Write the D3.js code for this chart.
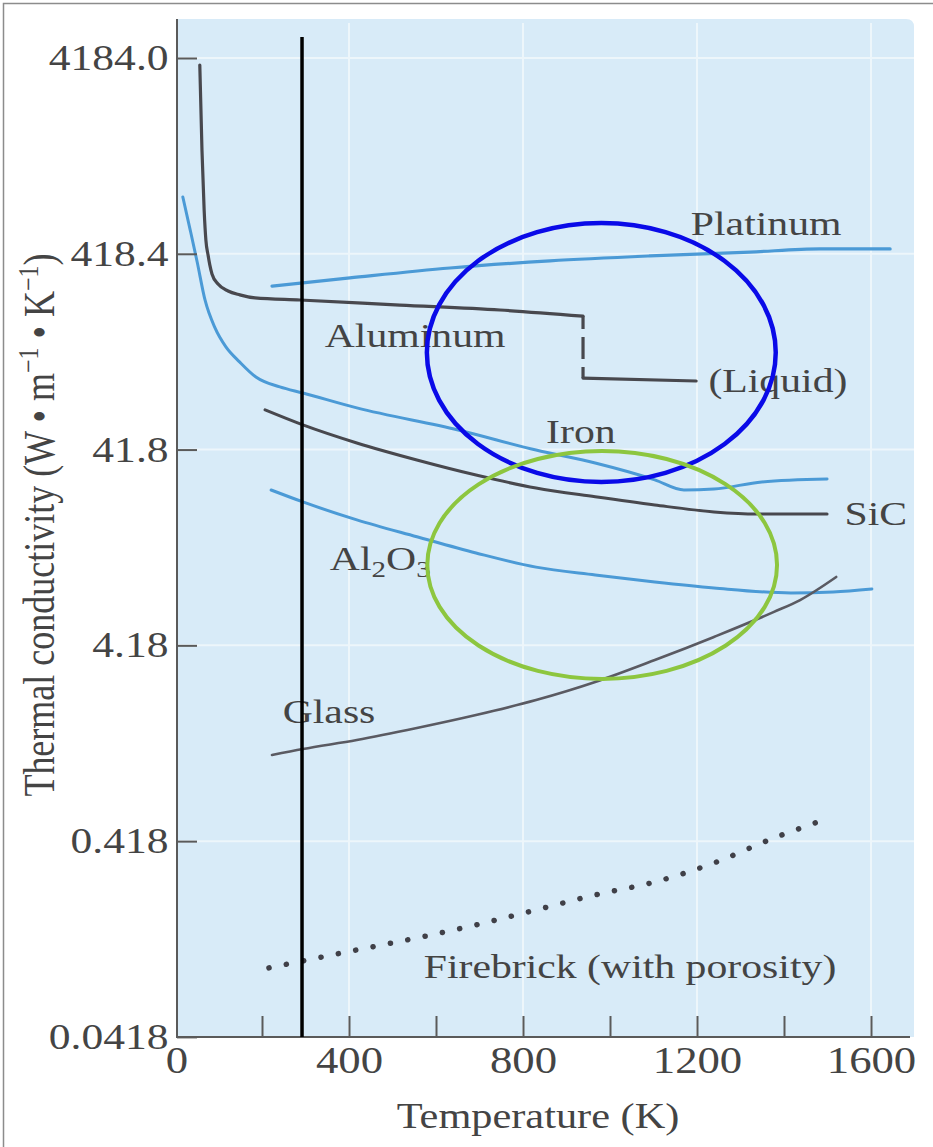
<!DOCTYPE html>
<html>
<head>
<meta charset="utf-8">
<script src="https://cdn.jsdelivr.net/npm/d3@7"></script>
<style>
  html, body { margin: 0; padding: 0; background: #ffffff; }
  svg { display: block; }
  text { font-family: "Liberation Serif", "Times New Roman", serif; fill: #444444; }
</style>
</head>
<body>
<svg id="chart" width="933" height="1147"></svg>
<script>
// Thermal conductivity (W·m⁻¹·K⁻¹) against temperature (K), log scale.
// Each series: [temperature K, conductivity].
const aluminumSolid = [[57,3850],[62,1418],[67,700],[71,492],[76,412],[80,367],[85,330],[99,293],[122,270],[149,258],[184,249],[287,243],[517,229],[747,216],[938,201]];
const aluminumMelt = [[938,201],[938,97]];
const aluminumLiquid = [[938,97],[1198,93.7]];
const platinum = [[223,286],[402,315],[632,354],[862,385],[1092,408],[1322,427],[1483,443],[1644,443]];
const iron = [[18,816],[35,553],[51,380],[69,243],[92,175],[117,140],[149,117],[186,98.2],[241,87.4],[294,81.4],[418,68.3],[651,52.7],[830,41.6],[966,35.7],[1103,29.3],[1170,26.0],[1239,26.3],[1349,28.6],[1499,29.6]];
const siC = [[207,66.7],[294,55.9],[418,45.2],[556,37.0],[692,31.0],[830,26.6],[966,24.0],[1103,21.8],[1239,20.1],[1336,19.6],[1499,19.6]];
const al2o3 = [[221,26.0],[294,22.6],[418,18.3],[556,15.0],[692,12.4],[830,10.5],[966,9.58],[1103,8.82],[1239,8.22],[1416,7.75],[1513,7.84],[1602,8.12]];
const glass = [[223,1.153],[294,1.237],[418,1.375],[556,1.584],[692,1.845],[830,2.20],[966,2.72],[1103,3.52],[1239,4.62],[1377,6.20],[1437,7.13],[1520,9.35]];
const firebrick = [[216,0.0942],[294,0.1023],[418,0.1164],[556,0.134],[692,0.1562],[830,0.1863],[966,0.2222],[1103,0.2589],[1239,0.3237],[1377,0.4343],[1478,0.5243]];

// Axis ticks
const yTickValues = [4184.0, 418.4, 41.84, 4.184, 0.4184, 0.04184];
const yTickLabels = ["4184.0", "418.4", "41.8", "4.18", "0.418", "0.0418"];
const xTickValues = [200, 400, 600, 800, 1000, 1200, 1400, 1600];
const xTickLabels = [0, 400, 800, 1200, 1600];
const xGridValues = [400, 800, 1200, 1600];

// Curve names, anchored in data units (temperature, conductivity)
const curveLabels = [
  { text: "Platinum", t: 1359, k: 522, anchor: "middle" },
  { text: "Aluminum", t: 552, k: 139.8, anchor: "middle" },
  { text: "(Liquid)", t: 1386, k: 82.4, anchor: "middle" },
  { text: "Iron", t: 933, k: 45.2, anchor: "middle" },
  { text: "SiC", t: 1611, k: 17.2, anchor: "middle" },
  { text: "Glass", t: 354, k: 1.68, anchor: "middle" },
  { text: "Firebrick (with porosity)", t: 1046, k: 0.0837, anchor: "middle" }
];
const aluminaLabel = { t: 356, k: 10.15 };

// Room-temperature marker and highlighted regions
const roomTemperature = 292;
const markerTopK = 5356;
const highlights = [
  { t: 980, k: 131, halfT: 401, halfDecades: 0.661, color: "#0a0ae8", width: 4.5 },
  { t: 982, k: 10.77, halfT: 402, halfDecades: 0.582, color: "#8dc63f", width: 4 }
];

const svg = d3.select("#chart");
const SX = 1.21; // horizontal stretch of the serif lettering

const x = d3.scaleLinear().domain([0, 1600]).range([175, 871]);
const y = d3.scaleLog().domain([0.0418, 4184]).range([1037, 58]);

// page frame
svg.append("rect").attr("x", 3.5).attr("y", 3.5).attr("width", 1000).attr("height", 1200)
  .attr("fill", "none").attr("stroke", "#8c8c8c").attr("stroke-width", 1.5);

// plot panel
const panel = { left: 177, top: 19, right: 914, bottom: 1037 };
svg.append("path")
  .attr("d", `M${panel.left},${panel.bottom} V${panel.top} H${panel.right - 8} Q${panel.right},${panel.top} ${panel.right},${panel.top + 8} V${panel.bottom} Z`)
  .attr("fill", "#d8ebf8");

// gridlines
const grid = svg.append("g").attr("stroke", "#ffffff").attr("stroke-width", 2).attr("opacity", 0.55);
grid.selectAll("line.h").data(yTickValues.slice(0, 5)).join("line")
  .attr("x1", panel.left).attr("x2", panel.right)
  .attr("y1", d => y(d)).attr("y2", d => y(d));
grid.selectAll("line.v").data(xGridValues).join("line")
  .attr("x1", d => x(d)).attr("x2", d => x(d))
  .attr("y1", panel.top + 4).attr("y2", panel.bottom);

const line = d3.line().x(d => x(d[0])).y(d => y(d[1])).curve(d3.curveMonotoneX);
const straight = d3.line().x(d => x(d[0])).y(d => y(d[1]));

const GREY = "#48484e", BLUE = "#4b9ad6";
const curves = svg.append("g").attr("fill", "none").attr("stroke-linecap", "round").attr("stroke-linejoin", "round");

curves.append("path").datum(platinum).attr("d", line).attr("stroke", BLUE).attr("stroke-width", 3.2);
curves.append("path").datum(iron).attr("d", line).attr("stroke", BLUE).attr("stroke-width", 3);
curves.append("path").datum(al2o3).attr("d", line).attr("stroke", BLUE).attr("stroke-width", 3);
curves.append("path").datum(siC).attr("d", line).attr("stroke", GREY).attr("stroke-width", 3);
curves.append("path").datum(glass).attr("d", line).attr("stroke", "#5a5a62").attr("stroke-width", 2.6);
curves.append("path").datum(aluminumSolid).attr("d", line).attr("stroke", GREY).attr("stroke-width", 3.2);
curves.append("path").datum(aluminumMelt).attr("d", straight).attr("stroke", GREY).attr("stroke-width", 3.2)
  .attr("stroke-linecap", "butt").attr("stroke-dasharray", "13,8,22,8,14");
curves.append("path").datum(aluminumLiquid).attr("d", straight).attr("stroke", GREY).attr("stroke-width", 3.2);
curves.append("path").datum(firebrick).attr("d", line).attr("stroke", "#404048").attr("stroke-width", 5.5)
  .attr("stroke-dasharray", "0.1,17.6");

// curve names
const labels = svg.append("g").attr("font-size", 34.5);
labels.selectAll("text.curve").data(curveLabels).join("text")
  .attr("text-anchor", d => d.anchor)
  .attr("transform", d => `translate(${x(d.t)},${y(d.k)}) scale(${SX},1)`)
  .text(d => d.text);
const al = labels.append("text")
  .attr("transform", `translate(${x(aluminaLabel.t)},${y(aluminaLabel.k)}) scale(${SX},1)`);
al.append("tspan").text("Al");
al.append("tspan").attr("font-size", 24).attr("dy", 7).text("2");
al.append("tspan").attr("dy", -7).text("O");
al.append("tspan").attr("font-size", 24).attr("dy", 7).text("3");

// axes
const axisColor = "#5a5a5a";
const yAxis = svg.append("g").attr("transform", `translate(${panel.left},0)`)
  .call(d3.axisLeft(y).tickValues(yTickValues).tickSize(-20).tickSizeOuter(0).tickPadding(7)
    .tickFormat((d, i) => yTickLabels[i]));
yAxis.select(".domain").remove();
yAxis.selectAll(".tick line").attr("stroke", axisColor).attr("stroke-width", 2);
yAxis.selectAll(".tick text").attr("font-size", 36).attr("font-family", "Liberation Serif")
  .attr("fill", "#4a4a4a").attr("transform", `scale(${SX},1)`);

const xAxis = svg.append("g").attr("transform", `translate(0,${panel.bottom})`)
  .call(d3.axisBottom(x).tickValues(xTickValues).tickSize(-21).tickSizeOuter(0).tickPadding(10)
    .tickFormat(d => xTickLabels.includes(d) ? d : ""));
xAxis.select(".domain").remove();
xAxis.selectAll(".tick line").attr("stroke", axisColor).attr("stroke-width", 2);
xAxis.selectAll(".tick text").attr("font-size", 37).attr("font-family", "Liberation Serif")
  .attr("fill", "#4a4a4a").attr("transform", `scale(${SX},1)`);
// origin label
xAxis.append("text").attr("x", x(0) + 2).attr("y", 10).attr("dy", "0.71em")
  .attr("text-anchor", "middle").attr("font-size", 37).attr("fill", "#4a4a4a")
  .attr("transform", `translate(${(x(0) + 2) * (1 - SX)},0) scale(${SX},1)`).text(xTickLabels[0]);

svg.append("line").attr("x1", panel.left).attr("x2", panel.left).attr("y1", panel.top).attr("y2", panel.bottom)
  .attr("stroke", axisColor).attr("stroke-width", 2);
svg.append("line").attr("x1", panel.left - 1).attr("x2", panel.right - 4).attr("y1", panel.bottom).attr("y2", panel.bottom)
  .attr("stroke", axisColor).attr("stroke-width", 2);

// axis titles
svg.append("text").attr("text-anchor", "middle").attr("font-size", 35)
  .attr("transform", `translate(538,1128) scale(${SX},1)`).text("Temperature (K)");

const yt = svg.append("text").attr("text-anchor", "middle").attr("font-size", 36)
  .attr("transform", `translate(54,525) scale(${SX},1) rotate(-90)`);
yt.append("tspan").text("Thermal conductivity (W • m");
yt.append("tspan").attr("font-size", 24).attr("dy", -13).text("−1");
yt.append("tspan").attr("dy", 13).text(" • K");
yt.append("tspan").attr("font-size", 24).attr("dy", -13).text("−1");
yt.append("tspan").attr("dy", 13).text(")");

// room-temperature marker
svg.append("line")
  .attr("x1", x(roomTemperature)).attr("x2", x(roomTemperature))
  .attr("y1", y(markerTopK)).attr("y2", y(0.0418))
  .attr("stroke", "#000000").attr("stroke-width", 3.5);

// highlighted regions
svg.selectAll("ellipse.hl").data(highlights).join("ellipse")
  .attr("cx", d => x(d.t))
  .attr("cy", d => y(d.k))
  .attr("rx", d => x(d.t + d.halfT) - x(d.t))
  .attr("ry", d => y(d.k / Math.pow(10, d.halfDecades)) - y(d.k))
  .attr("fill", "none")
  .attr("stroke", d => d.color)
  .attr("stroke-width", d => d.width);
</script>
</body>
</html>
